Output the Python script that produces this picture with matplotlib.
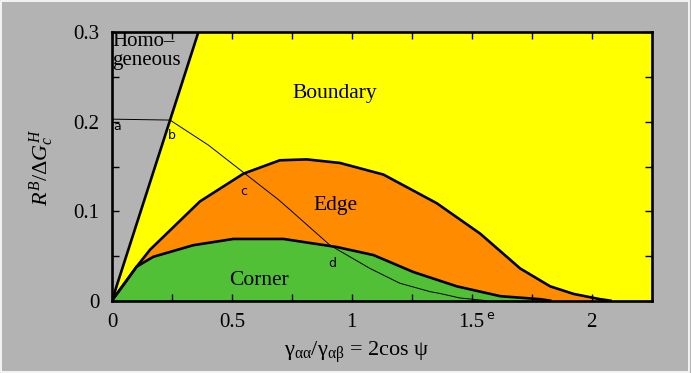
import matplotlib
matplotlib.use("Agg")
import matplotlib.pyplot as plt
from matplotlib.patches import Rectangle

# dane
homo_x = [0.0, 0.36]
homo_y = [0.0, 0.30]

edge_x = [0.0, 0.103, 0.159, 0.367, 0.548, 0.70, 0.812, 0.951, 1.132, 1.354,
          1.535, 1.702, 1.827, 1.925, 2.036, 2.078]
edge_y = [0.0, 0.038, 0.057, 0.111, 0.142, 0.157, 0.158, 0.154, 0.141, 0.109,
          0.075, 0.036, 0.016, 0.0075, 0.0016, 0.0]

corner_x = [0.0, 0.103, 0.172, 0.339, 0.506, 0.715, 0.937, 1.09, 1.257, 1.438,
            1.619, 1.786, 1.827]
corner_y = [0.0, 0.038, 0.049, 0.062, 0.069, 0.069, 0.060, 0.051, 0.032, 0.016,
            0.005, 0.0016, 0.0]

path_x = [0.0, 0.242, 0.402, 0.555, 0.694, 0.743, 0.909, 1.076, 1.2, 1.327,
          1.368, 1.45, 1.56]
path_y = [0.203, 0.202, 0.174, 0.142, 0.113, 0.1015, 0.062, 0.036, 0.0195, 0.010,
          0.008, 0.003, 0.0]

point_labels = ["a", "b", "c", "d"]
point_x = [0.005, 0.235, 0.535, 0.90]
point_y = [0.195, 0.185, 0.122, 0.041]

x_ticks = [0, 0.5, 1, 1.5, 2]
x_ticklabels = ["0", "0.5", "1", "1.5", "2"]
y_ticks = [0, 0.1, 0.2, 0.3]
y_ticklabels = ["0", "0.1", "0.2", "0.3"]

gray = "#b3b3b3"
yellow = "#ffff00"
orange = "#ff8c00"
green = "#52c037"

plt.rcParams["font.family"] = ["Liberation Serif", "DejaVu Serif"]
plt.rcParams["mathtext.fontset"] = "custom"
plt.rcParams["mathtext.rm"] = "Liberation Serif"
plt.rcParams["mathtext.it"] = "Liberation Serif:italic"

fig = plt.figure(figsize=(6.91, 3.73), dpi=100, facecolor=gray)
fig.patches.append(Rectangle((0.002, 0.004), 0.995, 0.992, transform=fig.transFigure,
                             fill=False, edgecolor="white", linewidth=1.2))
ax = fig.add_axes([0.162, 0.194, 0.781, 0.719])
ax.set_facecolor(gray)
xmax = 2.25

# obszary
ax.fill([homo_x[0], homo_x[1], xmax, xmax], [homo_y[0], homo_y[1], 0.3, 0.0],
        color=yellow, lw=0)
ax.fill_between(edge_x, edge_y, 0, color=orange, lw=0)
ax.fill_between(corner_x, corner_y, 0, color=green, lw=0)

ax.plot(homo_x, homo_y, color="black", lw=1.9)
ax.plot(edge_x, edge_y, color="black", lw=1.9)
ax.plot(corner_x, corner_y, color="black", lw=1.9)
ax.plot(path_x, path_y, color="black", lw=0.7)

for lab, px, py in zip(point_labels, point_x, point_y):
    ax.text(px, py, lab, fontsize=9, family="DejaVu Sans", ha="left", va="center")
ax.text(1.562, -0.017, "e", fontsize=9, family="DejaVu Sans", ha="left", va="center",
        clip_on=False)

ax.text(0.0, 0.301, "Homo\u2013\ngeneous", fontsize=15, ha="left", va="top",
        linespacing=1.05)
ax.text(0.93, 0.232, "Boundary", fontsize=15.5, ha="center", va="center")
ax.text(0.93, 0.106, "Edge", fontsize=15.5, ha="center", va="center")
ax.text(0.613, 0.023, "Corner", fontsize=15.5, ha="center", va="center")

ax.set_xlim(0, xmax)
ax.set_ylim(0, 0.3)
ax.set_xticks(x_ticks)
ax.set_xticklabels(x_ticklabels)
ax.set_yticks(y_ticks)
ax.set_yticklabels(y_ticklabels)
ax.set_xticks([0.25, 0.75, 1.25, 1.75], minor=True)
ax.set_yticks([0.05, 0.15, 0.25], minor=True)
ax.tick_params(which="both", direction="in", length=5, width=1, top=True, right=True,
               labelsize=15, pad=9)
for sp in ax.spines.values():
    sp.set_linewidth(1.9)
    sp.set_zorder(5)

fig.text(357 / 691, 1 - 352 / 373,
         "\u03b3$_{\\mathrm{\u03b1\u03b1}}$/\u03b3$_{\\mathrm{\u03b1\u03b2}}$ = 2cos \u03c8",
         fontsize=16, ha="center", va="center")
fig.text(42 / 691, 1 - 168 / 373, r"$R^B/\Delta G_c^H$", fontsize=16, rotation=90,
         ha="center", va="center")

fig.savefig("out.png", dpi=100, facecolor=gray)
